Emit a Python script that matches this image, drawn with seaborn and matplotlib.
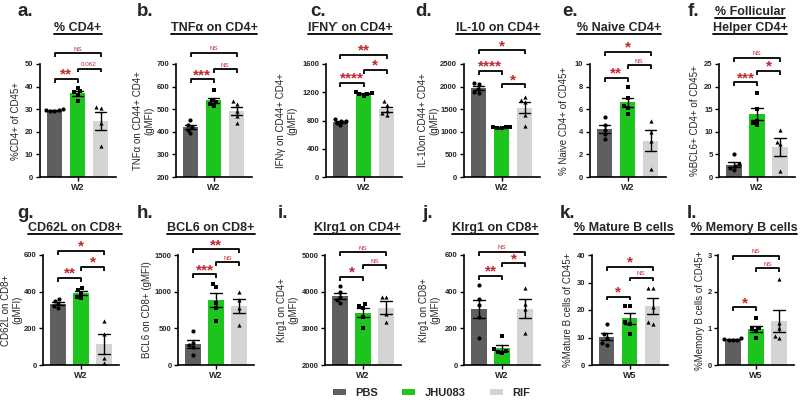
import numpy as np
import pandas as pd
import matplotlib
matplotlib.use("Agg")
import matplotlib.pyplot as plt
import seaborn as sns
from matplotlib.patches import Patch
from matplotlib.lines import Line2D

# ---- data ----
groups = ["PBS", "JHU083", "RIF"]
group_colors = ["#5f5f5f", "#1ec41e", "#d4d4d4"]
group_markers = ["o", "s", "^"]

letters = ["a.", "b.", "c.", "d.", "e.", "f.", "g.", "h.", "i.", "j.", "k.", "l."]
titles = ["% CD4+", "TNF\u03b1 on CD4+", "IFN\u03d2 on CD4+", "IL-10 on CD4+",
          "% Naive CD4+", "% Follicular\nHelper CD4+",
          "CD62L on CD8+", "BCL6 on CD8+", "Klrg1 on CD4+", "Klrg1 on CD8+",
          "% Mature B cells", "% Memory B cells"]
ylabels = ["%CD4+ of CD45+", "TNF\u03b1 on CD44+ CD4+\n(gMFI)",
           "IFN\u03b3 on CD44+ CD4+\n(gMFI)", "IL-10on CD44+ CD4+\n(gMFI)",
           "% Naive CD4+ of CD45+", "%BCL6+ CD4+ of CD45+",
           "CD62L on CD8+\n(gMFI)", "BCL6 on CD8+ (gMFI)",
           "Klrg1 on CD4+\n(gMFI)", "Klrg1 on CD8+\n(gMFI)",
           "%Mature B cells of CD45+", "%Memory B cells of CD45+"]
weeks = ["W2"] * 10 + ["W5"] * 2

y_min = [0, 200, 0, 0, 0, 0, 0, 0, 2000, 0, 0, 0]
y_max = [50, 700, 1600, 2500, 10, 25, 600, 1500, 5000, 600, 40, 3]
y_step = [10, 100, 400, 500, 2, 5, 200, 500, 1000, 200, 10, 1]

pbs_pts = [
    [30.2, 29.8, 29.5, 29.2, 29.0],
    [452, 430, 420, 410, 395],
    [820, 800, 790, 770, 730],
    [2070, 2050, 1950, 1880, 1860],
    [5.3, 4.6, 4.2, 3.8, 3.4],
    [5.0, 2.8, 2.4, 2.0, 1.5],
    [360, 350, 335, 320, 310],
    [470, 300, 270, 240, 130],
    [4150, 3980, 3850, 3780, 3700],
    [435, 360, 330, 260, 150],
    [14.8, 11.3, 10.0, 8.0, 7.4],
    [0.73, 0.71, 0.69, 0.68, 0.67],
]
jhu_pts = [
    [39.5, 38.0, 37.5, 36.5, 33.5],
    [585, 540, 530, 525, 515],
    [1200, 1190, 1180, 1170, 1150],
    [1115, 1105, 1100, 1095, 1085],
    [8.0, 7.0, 6.3, 6.1, 5.6],
    [18.5, 15.0, 12.5, 12.0, 11.5],
    [420, 410, 395, 370, 365],
    [1110, 1070, 850, 780, 600],
    [3650, 3600, 3550, 3300, 3000],
    [157, 85, 75, 70, 68],
    [21.5, 21.5, 15.5, 15.0, 11.2],
    [1.28, 1.0, 0.97, 0.93, 0.75],
]
rif_pts = [
    [31.0, 30.5, 24.0, 13.5],
    [535, 525, 490, 470, 440],
    [1070, 1020, 940, 900, 880],
    [1780, 1700, 1660, 1380, 1130],
    [5.0, 4.0, 3.2, 0.7],
    [10.4, 7.8, 7.2, 1.3],
    [238, 170, 37, 9],
    [1000, 880, 780, 550],
    [3850, 3850, 3400, 3170],
    [421, 331, 305, 174],
    [28.0, 28.0, 21.0, 15.5, 15.0],
    [2.35, 1.15, 1.0, 0.78, 0.75],
]

# comparisons: PBS-JHU083, JHU083-RIF, PBS-RIF
sig_labels = [
    ["**", "0.062", "NS"], ["***", "NS", "NS"], ["****", "*", "**"],
    ["****", "*", "*"], ["**", "NS", "*"], ["***", "*", "NS"],
    ["**", "*", "*"], ["***", "NS", "**"], ["*", "NS", "NS"],
    ["**", "*", "NS"], ["*", "NS", "*"], ["*", "NS", "NS"],
]
bracket_y = [
    [43.4, 48.0, 54.7], [632, 676, 750], [1335, 1520, 1730],
    [2350, 2055, 2800], [8.8, 9.9, 11.1], [21, 23.5, 26.4],
    [475, 536, 622], [1235, 1405, 1577], [4405, 4730, 5080],
    [487, 555, 618], [24.9, 31.8, 35.7], [1.57, 2.64, 2.98],
]

# ---- layout (pixels on an 800x400 canvas) ----
W, H = 800, 400
row_top = [64, 255]
row_bottom = [177, 365]
first_bar_x = [54.5, 190.5, 340.5, 478.5, 604.5, 734, 58, 193, 340, 479, 606.5, 733]
ylabel_x = [16, 144, 287, 429, 564, 695, 12, 147, 288, 430, 568, 700]
title_x = [78, 214, 350, 498, 619, 750, 75, 211, 357, 495, 624, 744]
letter_x = [17, 137, 310, 415, 562, 688, 17, 137, 278, 422, 560, 687]
title_y = [28, 228]
letter_y = [12, 213]
AX_W = 76
XLIM = (-0.65, 2.65)
SIG_RED = "#c1272d"

sns.set_theme(style="ticks")
plt.rcParams["font.family"] = ["Liberation Sans", "DejaVu Sans"]

fig = plt.figure(figsize=(8, 4), dpi=100)

title_texts = []
for i in range(12):
    row = i // 6
    left = first_bar_x[i] - 0.65 * AX_W / 3.3
    ax = fig.add_axes([left / W, 1 - row_bottom[row] / H, AX_W / W,
                       (row_bottom[row] - row_top[row]) / H])

    pts = [pbs_pts[i], jhu_pts[i], rif_pts[i]]
    df = pd.DataFrame({
        "group": [g for g, p in zip(groups, pts) for _ in p],
        "value": [v for p in pts for v in p],
    })
    sns.barplot(data=df, x="group", y="value", hue="group", order=groups,
                hue_order=groups, palette=group_colors, saturation=1,
                errorbar="se", capsize=0.5, width=0.67, linewidth=0,
                err_kws={"color": "black", "linewidth": 1.0},
                legend=False, ax=ax)
    for g, m, p in zip(groups, group_markers, pts):
        sns.swarmplot(x=[g] * len(p), y=p, order=groups, marker=m,
                      color="black", size=3, ax=ax)

    # axes styling
    ax.set_xlim(*XLIM)
    ax.set_ylim(y_min[i], y_max[i])
    ticks = np.arange(y_min[i], y_max[i] + y_step[i] / 2, y_step[i])
    ax.set_yticks(ticks, labels=[f"{t:g}" for t in ticks],
                  fontsize=5.5, fontweight="bold")
    ax.set_xticks([1], labels=[weeks[i]], fontsize=6.5, fontweight="bold")
    ax.set_xlabel("")
    ax.set_ylabel(ylabels[i], fontsize=7, va="center", ha="center")
    ax.yaxis.set_label_coords((ylabel_x[i] - left) / AX_W, 0.5)
    sns.despine(ax=ax)
    for s in ["left", "bottom"]:
        ax.spines[s].set_linewidth(1.2)
        ax.spines[s].set_color("black")
    ax.tick_params(axis="both", length=3, width=1, pad=1.5, color="black")

    # significance brackets
    drop = 0.035 * (y_max[i] - y_min[i])
    for (a, b), lab, yb in zip([(0, 1), (1, 2), (0, 2)], sig_labels[i], bracket_y[i]):
        ax.plot([a, a, b, b], [yb - drop, yb, yb, yb - drop], color="black",
                lw=1.3, clip_on=False, solid_capstyle="butt")
        if "*" in lab:
            ax.text((a + b) / 2, yb, lab, ha="center", va="baseline",
                    fontsize=11, fontweight="bold", color=SIG_RED, clip_on=False)
        else:
            ax.text((a + b) / 2, yb + 0.012 * (y_max[i] - y_min[i]), lab,
                    ha="center", va="bottom", fontsize=4.5, color=SIG_RED,
                    clip_on=False)

    # panel letter and underlined title
    fig.text(letter_x[i] / W, 1 - letter_y[row] / H, letters[i], ha="left",
             va="center", fontsize=13.5, fontweight="bold")
    lines = titles[i].split("\n")
    for k, line in enumerate(lines):
        ty = title_y[row] - 16 * (len(lines) - 1 - k)
        t = fig.text(title_x[i] / W, 1 - ty / H, line, ha="center", va="center",
                     fontsize=9, fontweight="bold")
        title_texts.append(t)

# underline the titles
fig.canvas.draw()
renderer = fig.canvas.get_renderer()
inv = fig.transFigure.inverted()
for t in title_texts:
    bb = t.get_window_extent(renderer)
    (x0, y0), (x1, _) = inv.transform([(bb.x0, bb.y0), (bb.x1, bb.y0)])
    fig.add_artist(Line2D([x0, x1], [y0, y0], transform=fig.transFigure,
                          color="black", lw=1.3))

handles = [Patch(facecolor=c, edgecolor="none", label=g)
           for g, c in zip(groups, group_colors)]
fig.legend(handles=handles, loc="center", bbox_to_anchor=(0.539, 0.018),
           ncol=3, frameon=False, prop={"weight": "bold", "size": 8},
           handlelength=1.2, handleheight=0.5, handletextpad=0.8,
           columnspacing=2.2)

fig.savefig("out.png", dpi=100)
